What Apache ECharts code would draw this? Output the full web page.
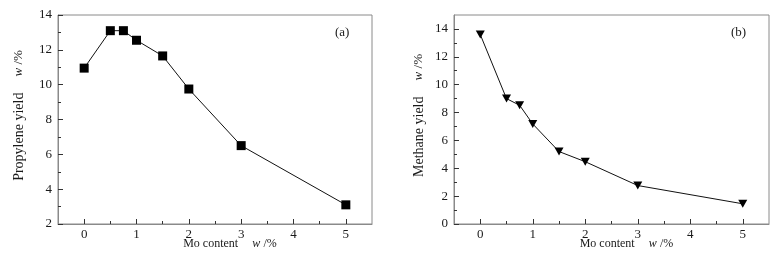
<!DOCTYPE html>
<html>
<head>
<meta charset="utf-8">
<script src="https://cdn.jsdelivr.net/npm/echarts@6/dist/echarts.min.js"></script>
<style>
  html, body { margin: 0; padding: 0; background: #fff; }
  #chart { width: 780px; height: 263px; }
</style>
</head>
<body>
<div id="chart"></div>
<script>
  // Mo content (w/%)
  var moContent = [0, 0.5, 0.75, 1, 1.5, 2, 3, 5];
  // (a) propylene yield
  var propyleneYield = [10.95, 13.1, 13.1, 12.55, 11.65, 9.75, 6.5, 3.1];
  // (b) methane yield
  var methaneYield = [13.6, 9.0, 8.52, 7.18, 5.2, 4.47, 2.76, 1.45];

  var xMajor = [0, 1, 2, 3, 4, 5];
  var xMinor = [0.5, 1.5, 2.5, 3.5, 4.5];
  var yMajorA = [2, 4, 6, 8, 10, 12, 14];
  var yMinorA = [3, 5, 7, 9, 11, 13];
  var yMajorB = [0, 2, 4, 6, 8, 10, 12, 14];
  var yMinorB = [1, 3, 5, 7, 9, 11, 13];

  var font = 'Liberation Serif, Times New Roman, serif';
  var frameColor = '#8a8a8a';
  var textColor = '#1a1a1a';

  function pairs(xs, ys) {
    return xs.map(function (x, i) { return [x, ys[i]]; });
  }

  function nameRich(size, wsize, gap) {
    return {
      n: { fontFamily: font, fontSize: size, color: textColor },
      g: { width: gap },
      i: { fontFamily: font, fontSize: wsize, fontStyle: 'italic', color: textColor },
      p: { fontFamily: font, fontSize: wsize, color: textColor }
    };
  }

  function xAxes(gi) {
    return [{
      type: 'value', gridIndex: gi, min: -0.5, max: 5.5, position: 'bottom',
      name: '{n|Mo content}{g|}{i|w} {p|/%}',
      nameLocation: 'middle', nameGap: 14, nameMoveOverlap: false,
      nameTextStyle: { rich: nameRich(12, 12, 14), padding: [0, 0, 0, 30] },
      axisLine: { show: true, onZero: false, lineStyle: { color: frameColor } },
      axisTick: { show: true, inside: true, length: 5, customValues: xMajor, lineStyle: { color: '#333' } },
      axisLabel: { customValues: xMajor, margin: 4, fontFamily: font, fontSize: 13, color: textColor },
      splitLine: { show: false }
    }, {
      type: 'value', gridIndex: gi, min: -0.5, max: 5.5, position: 'bottom',
      axisLine: { show: false, onZero: false },
      axisTick: { show: true, inside: true, length: 3, customValues: xMinor, lineStyle: { color: '#333' } },
      axisLabel: { show: false },
      splitLine: { show: false }
    }];
  }

  function yAxes(gi, min, max, major, minor, label, gap) {
    return [{
      type: 'value', gridIndex: gi, min: min, max: max, position: 'left',
      name: '{n|' + label + '}{g|}{i|w} {p|/%}',
      nameLocation: 'middle', nameGap: gap, nameRotate: 90, nameMoveOverlap: false,
      nameTextStyle: { rich: nameRich(14, 13, 16), padding: [0, 0, 0, 8] },
      axisLine: { show: true, onZero: false, lineStyle: { color: frameColor } },
      axisTick: { show: true, inside: true, length: 5, customValues: major, lineStyle: { color: '#333' } },
      axisLabel: { customValues: major, margin: 6, fontFamily: font, fontSize: 13, color: textColor },
      splitLine: { show: false }
    }, {
      type: 'value', gridIndex: gi, min: min, max: max, position: 'left', offset: 0,
      axisLine: { show: false, onZero: false },
      axisTick: { show: true, inside: true, length: 3, customValues: minor, lineStyle: { color: '#333' } },
      axisLabel: { show: false },
      splitLine: { show: false }
    }];
  }

  var chart = echarts.init(document.getElementById('chart'));
  var option = {
    backgroundColor: '#fff',
    animation: false,
    grid: [
      { left: 58, right: 408, top: 15, bottom: 39, show: true, borderColor: frameColor, borderWidth: 1 },
      { left: 454, right: 11, top: 15, bottom: 39, show: true, borderColor: frameColor, borderWidth: 1 }
    ],
    xAxis: xAxes(0).concat(xAxes(1)),
    yAxis: yAxes(0, 2, 14, yMajorA, yMinorA, 'Propylene yield', 32)
      .concat(yAxes(1, 0, 15, yMajorB, yMinorB, 'Methane yield', 28)),
    series: [{
      type: 'line', xAxisIndex: 0, yAxisIndex: 0,
      data: pairs(moContent, propyleneYield),
      symbol: 'rect', symbolSize: 9,
      lineStyle: { color: '#111', width: 1 },
      itemStyle: { color: '#000' }
    }, {
      type: 'line', xAxisIndex: 2, yAxisIndex: 2,
      data: pairs(moContent, methaneYield),
      symbol: 'triangle', symbolSize: [9, 8], symbolRotate: 180,
      lineStyle: { color: '#111', width: 1 },
      itemStyle: { color: '#000' }
    }],
    graphic: [
      { type: 'text', left: 335, top: 26, style: { text: '(a)', font: '13px ' + font, fill: textColor } },
      { type: 'text', left: 731, top: 26, style: { text: '(b)', font: '13px ' + font, fill: textColor } }
    ]
  };
  chart.setOption(option);
</script>
</body>
</html>
